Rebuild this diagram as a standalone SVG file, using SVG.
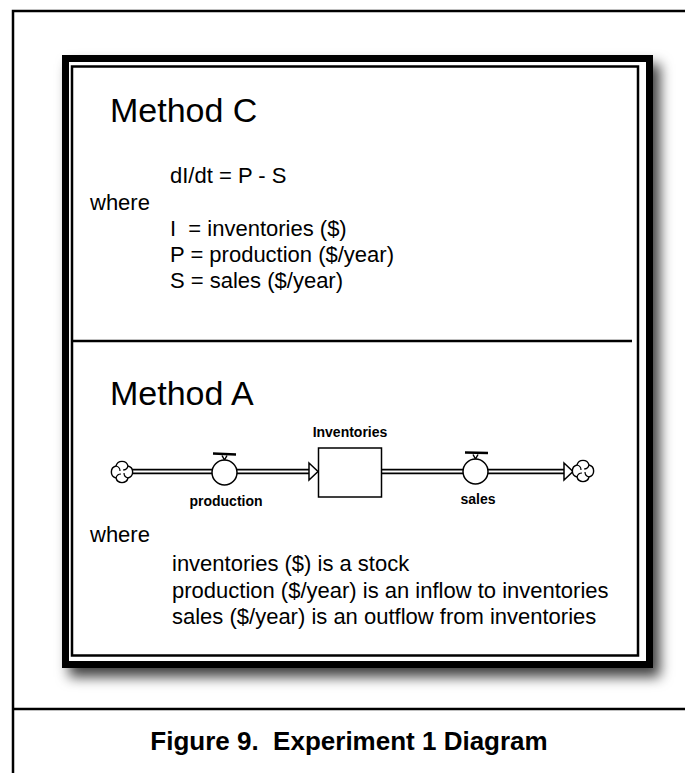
<svg xmlns="http://www.w3.org/2000/svg" xmlns:xlink="http://www.w3.org/1999/xlink" width="685" height="773" viewBox="0 0 685 773">
<style>
.t{font-family:"Liberation Sans",Arial,sans-serif;font-size:22px;fill:#000}
.h{font-family:"Liberation Sans",Arial,sans-serif;font-size:34px;fill:#000}
.lbl{font-family:"Liberation Sans",Arial,sans-serif;font-weight:bold;font-size:14px;fill:#000;text-anchor:middle}
.cap{font-family:"Liberation Sans",Arial,sans-serif;font-weight:bold;font-size:26px;fill:#000;text-anchor:middle}
.pipeo{fill:none;stroke:#000;stroke-width:5.5}
.pipei{fill:none;stroke:#fff;stroke-width:2}
.ln{fill:none;stroke:#000}
.valve{fill:#fff;stroke:#000;stroke-width:1.5}
.arrow{fill:#fff;stroke:#000;stroke-width:1.5;stroke-linejoin:miter}
</style>
<defs>
<filter id="sh" x="-10%" y="-10%" width="130%" height="130%">
<feDropShadow dx="7" dy="9" stdDeviation="6.5" flood-color="#000" flood-opacity="0.75"/>
</filter>
<g id="cloud">
<path d="M-6,6 A6.2,6.2 0 0 1 -6,-6 A6.2,6.2 0 0 1 6,-6 A6.2,6.2 0 0 1 6,6 A6.2,6.2 0 0 1 -6,6 Z" fill="#fff" stroke="#000" stroke-width="1.4"/>
<path d="M-6,-6 Q-2,-5 -2,-1 M6,-6 Q5,-2 1,-2 M6,6 Q2,5 2,1 M-6,6 Q-5,2 -1,2" fill="none" stroke="#000" stroke-width="1.2"/>
</g>
</defs>
<rect width="685" height="773" fill="#fff"/>
<g id="frame">
<rect x="13" y="11" width="700" height="800" fill="none" stroke="#000" stroke-width="2.5"/>
<line x1="13" y1="709" x2="685" y2="709" stroke="#000" stroke-width="2.5"/>
</g>
<g id="panel">
<rect x="62" y="55" width="591" height="613" fill="#fff" filter="url(#sh)"/>
<rect x="65.5" y="58.5" width="584" height="606" fill="none" stroke="#000" stroke-width="7"/>
<rect x="72" y="66.5" width="566" height="589" fill="none" stroke="#000" stroke-width="2.5"/>
<line x1="73" y1="341" x2="632" y2="341" stroke="#000" stroke-width="2.5"/>
</g>
<g id="methodC">
<text class="h" x="110" y="122">Method C</text>
<text class="t" x="170" y="183">dI/dt = P - S</text>
<text class="t" x="90" y="210">where</text>
<text class="t" x="170" y="236" xml:space="preserve">I  = inventories ($)</text>
<text class="t" x="170" y="262">P = production ($/year)</text>
<text class="t" x="170" y="288">S = sales ($/year)</text>
</g>
<g id="methodA">
<text class="h" x="110" y="405">Method A</text>
<text class="t" x="90" y="542">where</text>
<text class="t" x="172" y="571">inventories ($) is a stock</text>
<text class="t" x="172" y="598">production ($/year) is an inflow to inventories</text>
<text class="t" x="172" y="624">sales ($/year) is an outflow from inventories</text>
</g>
<g id="connectors">
<path class="pipeo" d="M132,471.5 H309 M382,471.5 H564"/>
<path class="pipei" d="M131,471.5 H310 M381,471.5 H565"/>
<polygon class="arrow" points="309,463 318,471.5 309,480"/>
<polygon class="arrow" points="564,463 573,471.5 564,480"/>
</g>
<g id="source">
<use xlink:href="#cloud" href="#cloud" transform="translate(122,472)"/>
</g>
<g id="production">
<circle class="valve" cx="224.5" cy="472.5" r="12.5"/>
<path class="ln" d="M224.5,460 L222,455.5 M224.5,460 L227,455.5" stroke-width="1.5"/>
<line class="ln" x1="213" y1="453.5" x2="236" y2="454.5" stroke-width="2.5"/>
<text class="lbl" x="226" y="506">production</text>
</g>
<g id="inventories">
<rect x="318.5" y="448" width="63" height="49" fill="#fff" stroke="#000" stroke-width="1.5"/>
<text class="lbl" x="350" y="437">Inventories</text>
</g>
<g id="sales">
<circle class="valve" cx="475.5" cy="471.5" r="12.5"/>
<path class="ln" d="M475.5,459 L473,454.5 M475.5,459 L478,454.5" stroke-width="1.5"/>
<line class="ln" x1="465" y1="452.5" x2="488" y2="453" stroke-width="2.5"/>
<text class="lbl" x="478" y="504">sales</text>
</g>
<g id="sink">
<use xlink:href="#cloud" href="#cloud" transform="translate(583,471)"/>
</g>
<g id="caption">
<text class="cap" x="349" y="750" xml:space="preserve">Figure 9.  Experiment 1 Diagram</text>
</g>
</svg>
